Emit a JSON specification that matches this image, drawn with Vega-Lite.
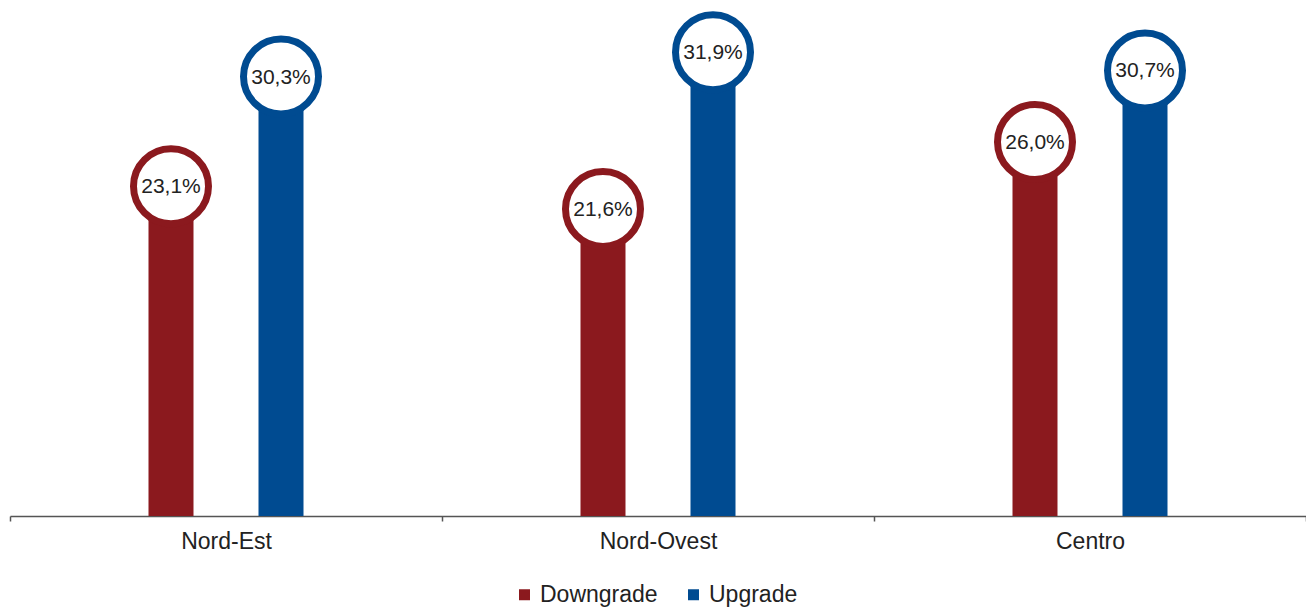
{
  "$schema": "https://vega.github.io/schema/vega-lite/v6.json",
  "width": 1296,
  "height": 516,
  "autosize": {"type": "none"},
  "padding": {"left": 10, "top": 0, "right": 0, "bottom": 91},
  "background": "white",
  "config": {"view": {"stroke": null}},
  "data": {
    "values": [
      {"region": "Nord-Est", "series": "Downgrade", "value": 23.1, "label": "23,1%"},
      {"region": "Nord-Est", "series": "Upgrade", "value": 30.3, "label": "30,3%"},
      {"region": "Nord-Ovest", "series": "Downgrade", "value": 21.6, "label": "21,6%"},
      {"region": "Nord-Ovest", "series": "Upgrade", "value": 31.9, "label": "31,9%"},
      {"region": "Centro", "series": "Downgrade", "value": 26.0, "label": "26,0%"},
      {"region": "Centro", "series": "Upgrade", "value": 30.7, "label": "30,7%"}
    ]
  },
  "encoding": {
    "x": {
      "field": "region", "type": "nominal",
      "sort": ["Nord-Est", "Nord-Ovest", "Centro"],
      "scale": {"paddingInner": 0, "paddingOuter": 0},
      "axis": {
        "title": null, "labelAngle": 0, "labelFontSize": 23, "labelColor": "#222222",
        "labelFont": "Liberation Sans", "domainColor": "#555555", "domainWidth": 1.5,
        "tickColor": "#555555", "tickSize": 5, "tickWidth": 1.5, "tickBand": "extent",
        "labelPadding": 9
      }
    },
    "xOffset": {
      "field": "series", "type": "nominal", "sort": ["Downgrade", "Upgrade"],
      "scale": {"paddingInner": 0, "paddingOuter": 0.9636}
    },
    "y": {
      "field": "value", "type": "quantitative",
      "scale": {"domain": [0, 33.88], "nice": false, "zero": true},
      "axis": null
    }
  },
  "layer": [
    {
      "mark": {"type": "bar", "width": 45},
      "encoding": {
        "color": {
          "field": "series", "type": "nominal",
          "scale": {"domain": ["Downgrade", "Upgrade"], "range": ["#8B191E", "#004B91"]},
          "legend": {
            "orient": "none", "legendX": 503, "legendY": 583, "direction": "horizontal",
            "title": null, "symbolType": "square", "symbolSize": 121, "symbolStrokeWidth": 0,
            "labelFontSize": 23, "labelFont": "Liberation Sans", "labelColor": "#222222",
            "labelOffset": 4, "columnPadding": 24
          }
        }
      }
    },
    {
      "mark": {"type": "point", "shape": "circle", "filled": true, "fill": "white", "strokeWidth": 7, "size": 5625, "opacity": 1, "yOffset": 22},
      "encoding": {
        "stroke": {
          "field": "series", "type": "nominal",
          "scale": {"domain": ["Downgrade", "Upgrade"], "range": ["#8B191E", "#004B91"]},
          "legend": null
        }
      }
    },
    {
      "mark": {"type": "text", "fontSize": 21, "font": "Liberation Sans", "color": "#222222", "align": "center", "baseline": "middle", "yOffset": 23},
      "encoding": {"text": {"field": "label"}}
    }
  ]
}
